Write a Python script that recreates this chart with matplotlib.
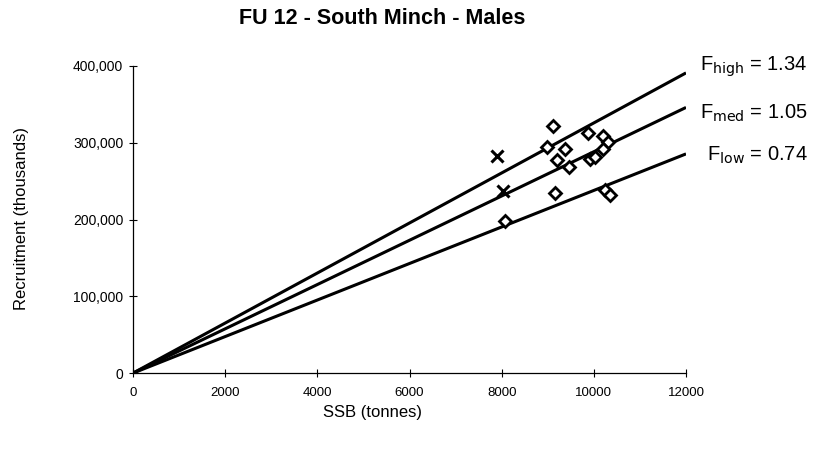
import numpy as np
from matplotlib import pyplot as plt
from matplotlib.ticker import FuncFormatter

plt.rcParams['font.family'] = ['Liberation Sans', 'DejaVu Sans']

# SSB (tonnes) and recruitment (thousands)
ssb_obs = [9119, 8975, 9372, 9191, 9466, 9155, 8072, 9877, 10202, 10310,
           10202, 9913, 10022, 10238, 10361]
rec_obs = [321700, 294800, 292200, 277000, 268700, 234800, 197800, 313000,
           308700, 300900, 292200, 279100, 281300, 239100, 232600]

# recent years, plotted as crosses
ssb_recent = [7892, 8022]
rec_recent = [282600, 237000]

# replacement lines: recruitment at 12000 t SSB
line_names = ['high', 'med', 'low']
line_f = ['1.34', '1.05', '0.74']
line_end_rec = [391000, 346000, 285500]
ssb_max = 12000

fig = plt.figure(figsize=(8.2, 4.55), dpi=100)
ax = fig.add_axes([0.1622, 0.180, 0.6744, 0.675])

for name, f, r_end in zip(line_names, line_f, line_end_rec):
    ax.plot([0, ssb_max], [0, r_end], color='black', lw=2.2, solid_capstyle='butt')

ax.plot(ssb_obs, rec_obs, linestyle='none', marker='D', markersize=6,
        markerfacecolor='white', markeredgecolor='black', markeredgewidth=2)
ax.plot(ssb_recent, rec_recent, linestyle='none', marker='x', markersize=9,
        color='black', markeredgewidth=2.2)

# line labels on the right
label_x = [700, 700, 707]
label_y = [67, 113, 155]
for name, f, x, y in zip(line_names, line_f, label_x, label_y):
    fig.text(x / 820, 1 - y / 455, r'F$_{\mathrm{' + name + '}}$ = ' + f,
             fontsize=14.5, va='center', ha='left')

ax.set_xlim(0, ssb_max)
ax.set_ylim(0, 400000)
ax.set_xticks(np.arange(0, 12001, 2000))
ax.set_yticks(np.arange(0, 400001, 100000))
ax.yaxis.set_major_formatter(FuncFormatter(lambda v, p: f'{int(v):,}'))
ax.tick_params(direction='inout', length=6, width=0.8, labelsize=10, pad=4)
ax.tick_params(axis='x', labelsize=9.5, pad=7)

for s in ['top', 'right']:
    ax.spines[s].set_visible(False)
for s in ['left', 'bottom']:
    ax.spines[s].set_linewidth(0.9)

fig.text(382 / 820, 1 - 18 / 455, 'FU 12 - South Minch - Males',
         fontsize=15.5, fontweight='bold', ha='center', va='center')
fig.text(373 / 820, 1 - 413 / 455, 'SSB (tonnes)', fontsize=12,
         ha='center', va='center')
fig.text(22 / 820, 1 - 218 / 455, 'Recruitment (thousands)', fontsize=12,
         ha='center', va='center', rotation=90)

plt.savefig('out.png', dpi=100)
